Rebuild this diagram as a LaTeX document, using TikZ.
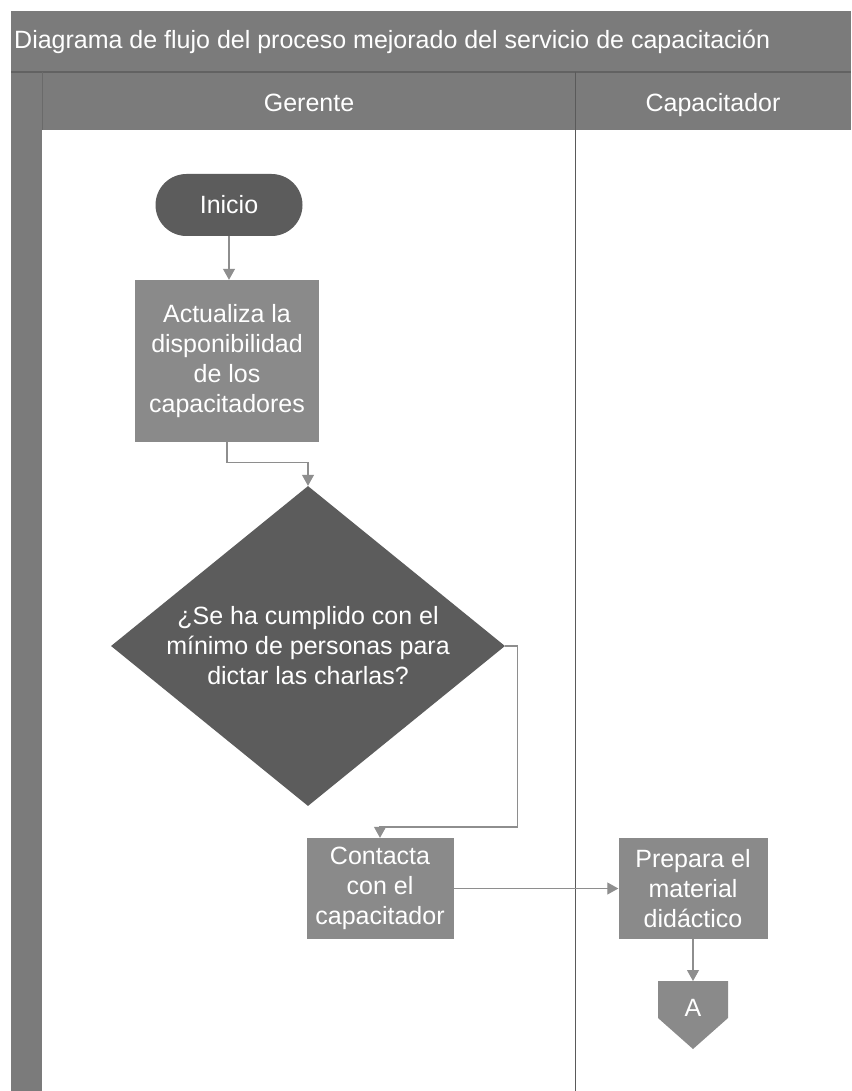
\documentclass[tikz,border=0pt]{standalone}
\usepackage{fontspec}
\setmainfont{Liberation Sans}
\usetikzlibrary{arrows.meta,shapes.geometric}

\definecolor{band}{HTML}{7B7B7B}
\definecolor{bandline}{HTML}{626262}
\definecolor{boxfill}{HTML}{8A8A8A}
\definecolor{darkfill}{HTML}{5C5C5C}
\definecolor{flow}{HTML}{8E8E8E}
\definecolor{lane}{HTML}{5A5A5A}

\tikzset{
  txt/.style={text=white, font=\fontsize{25}{30}\selectfont, align=center, inner sep=0pt},
  procbox/.style={txt, rectangle, fill=boxfill, minimum width=#1},
  procbox/.default=147pt,
  startbox/.style={txt, rectangle, rounded corners=31pt, fill=darkfill,
                   minimum width=147pt, minimum height=62pt},
  decision/.style={txt, diamond, fill=darkfill, aspect=1.23,
                   minimum width=394pt, minimum height=320pt},
  flowline/.style={draw=flow, line width=1.1pt,
                   -{Triangle[width=12pt,length=11pt]}},
  header/.style={text=white, font=\fontsize{25}{30}\selectfont, inner sep=0pt,
                 text height=18pt, text depth=5pt}
}

\begin{document}
\begin{tikzpicture}[x=1pt, y=-1pt]
  % page frame
  \useasboundingbox (0,0) rectangle (851,1091);
  \fill[white] (0,0) rectangle (851,1091);

  % pool: title band, lane header band, left strip
  \fill[band] (11,11) rectangle (851,130);
  \fill[band] (11,130) rectangle (42,1091);
  \draw[bandline, line width=1.2pt] (11,72) -- (851,72);
  \draw[bandline!70!band, line width=0.8pt] (42,72) -- (42,130);
  \draw[lane, line width=0.9pt] (575,72) -- (575,1091);

  \node[header, anchor=west] (title) at (14,42)
    {Diagrama de flujo del proceso mejorado del servicio de capacitación};
  \node[header] (gerente) at (309,105) {Gerente};
  \node[header] (capacitador) at (713,105) {Capacitador};

  % Gerente lane
  \node[startbox] (inicio) at (229,205) {Inicio};
  \node[procbox=184pt, minimum height=162pt] (actualiza) at (227,361)
    {Actualiza la\\disponibilidad\\de los\\capacitadores};
  \node[decision] (minimo) at (308,646)
    {¿Se ha cumplido con el\\mínimo de personas para\\dictar las charlas?};
  \node[procbox=147pt, minimum height=101pt] (contacta) at (380,888.5)
    {Contacta\\con el\\capacitador};

  % Capacitador lane
  \node[procbox=149pt, minimum height=101pt] (prepara) at (693,888.5)
    {Prepara el\\material\\didáctico};

  % off-page connector A
  \coordinate (atop) at (693,981);
  \fill[boxfill] (658,981) -- (728,981) -- (728,1018) -- (693,1049)
    -- (658,1018) -- cycle;
  \node[txt] (conA) at (693,1008) {A};

  % connectors
  \draw[flowline] (inicio.south) -- (inicio.south |- actualiza.north);
  \draw[flowline] (actualiza.south) -- ++(0,20) -| (minimo.north);
  \draw[flowline] (minimo.east) -- ++(12,0) |- (380,827) -- (contacta.north);
  \draw[flowline] (contacta.east) -- (prepara.west);
  \draw[flowline] (prepara.south) -- (atop);
\end{tikzpicture}
\end{document}
